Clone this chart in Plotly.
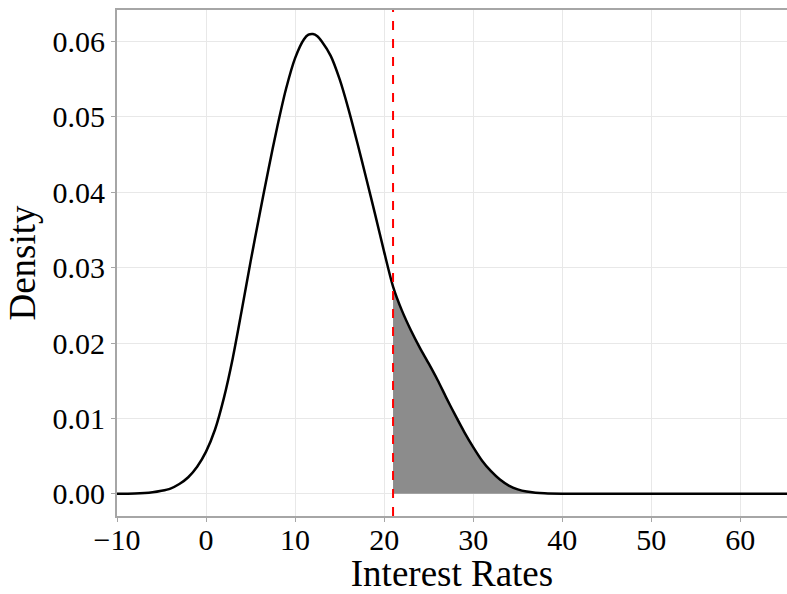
import plotly.graph_objects as go

# Density curve
rate = [-10, -8, -6, -5, -4, -3, -2, -1, 0, 1, 2, 3, 4, 5, 6, 7, 8, 9, 10, 11, 11.5,
        12, 12.5, 13, 14, 15, 16, 17, 18, 19, 20, 21, 22, 23, 24, 25, 26, 27, 28,
        29, 30, 31, 32, 33, 34, 35, 36, 37, 38, 40, 45, 50, 55, 60, 65.3]
density = [0.0, 0.00003, 0.0002, 0.0004, 0.0007, 0.0013, 0.0022, 0.0036, 0.0056,
           0.0085, 0.0127, 0.0180, 0.0243, 0.0308, 0.0370, 0.0430, 0.0487, 0.0538,
           0.0578, 0.0603, 0.0609, 0.0610, 0.0607, 0.0600, 0.0581, 0.0550, 0.0510,
           0.0465, 0.0418, 0.0370, 0.0321, 0.0275, 0.0243, 0.0217, 0.0194, 0.0173,
           0.0151, 0.0127, 0.0104, 0.0082, 0.0062, 0.0044, 0.0030, 0.0019, 0.0011,
           0.0006, 0.0003, 0.00015, 0.00007, 0.00001, 0.0, 0.0, 0.0, 0.0, 0.0]
threshold = 21

x_ticks = [-10, 0, 10, 20, 30, 40, 50, 60]
x_ticktext = ["\u221210", "0", "10", "20", "30", "40", "50", "60"]
y_ticks = [0.00, 0.01, 0.02, 0.03, 0.04, 0.05, 0.06]

tail_x = [x for x in rate if x >= threshold]
tail_y = [y for x, y in zip(rate, density) if x >= threshold]

fig = go.Figure()
fig.add_trace(go.Scatter(x=tail_x, y=tail_y, mode="lines", fill="tozeroy",
                         line=dict(width=0, shape="spline", smoothing=0.8),
                         fillcolor="rgb(140,140,140)", hoverinfo="skip",
                         showlegend=False))
fig.add_trace(go.Scatter(x=rate, y=density, mode="lines",
                         line=dict(color="black", width=2.5, shape="spline", smoothing=0.8),
                         showlegend=False))
fig.add_vline(x=threshold, line=dict(color="red", width=2, dash="dash"))

font_family = "Liberation Serif"
fig.update_layout(
    width=787, height=594,
    margin=dict(l=117, r=0, t=10, b=75),
    paper_bgcolor="white", plot_bgcolor="white",
    font=dict(family=font_family, color="black"),
    xaxis=dict(range=[-10, 65.24], tickvals=x_ticks, ticktext=x_ticktext,
               showgrid=True, gridcolor="#e8e8e8", gridwidth=1, zeroline=False,
               showline=True, linecolor="#a6a6a6", linewidth=2, mirror=True,
               ticks="outside", ticklen=4, tickcolor="#a6a6a6",
               ticklabelstandoff=-8,
               tickfont=dict(size=30, family=font_family),
               title=dict(text="Interest Rates", font=dict(size=37, family=font_family),
                          standoff=12)),
    yaxis=dict(range=[-0.00294, 0.06418], tickvals=y_ticks, tickformat=".2f",
               showgrid=True, gridcolor="#e8e8e8", gridwidth=1, zeroline=False,
               showline=True, linecolor="#a6a6a6", linewidth=2, mirror=False,
               ticks="outside", ticklen=4, tickcolor="#a6a6a6",
               tickfont=dict(size=30, family=font_family),
               title=dict(text="Density", font=dict(size=37, family=font_family),
                          standoff=6)),
)

fig.write_html("out.html")
